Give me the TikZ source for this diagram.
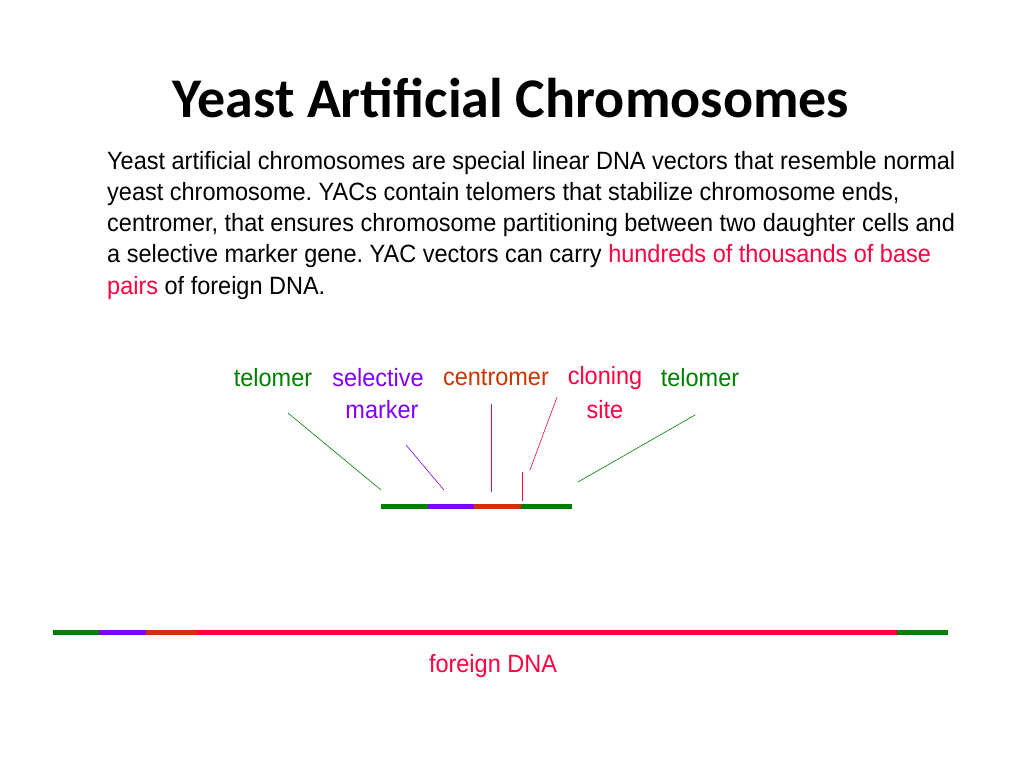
\documentclass[tikz,border=0pt]{standalone}
\usepackage{fontspec}
\setmainfont{Liberation Sans}
\newfontfamily\titlefont{Carlito}
\frenchspacing
\definecolor{telgreen}{RGB}{0,128,0}
\definecolor{selpurple}{RGB}{128,0,255}
\definecolor{cenorange}{RGB}{204,51,0}
\definecolor{clored}{RGB}{255,0,64}
\tikzset{
  txtline/.style={anchor=west, inner sep=0pt, font=\fontsize{25}{25}\selectfont, xscale=0.94},
  lbl/.style={inner sep=0pt, font=\fontsize{25}{25}\selectfont, xscale=0.94},
  seg/.style={line width=5pt},
  pointer/.style={line width=0.6pt}
}
\begin{document}
\begin{tikzpicture}[x=1pt,y=-1pt]
    \useasboundingbox (0,0) rectangle (1024,768);

    \node [font=\titlefont\bfseries\fontsize{56}{56}\selectfont] (title) at (511,98) {Yeast Artificial Chromosomes};

    \node [txtline] (p1) at (107,163) {Yeast artificial chromosomes are special linear DNA vectors that resemble normal};
    \node [txtline] (p2) at (107,194) {yeast chromosome. YACs contain telomers that stabilize chromosome ends,};
    \node [txtline] (p3) at (107,225) {centromer, that ensures chromosome partitioning between two daughter cells and};
    \node [txtline] (p4) at (107,256) {a selective marker gene. YAC vectors can carry \textcolor{clored}{hundreds of thousands of base}};
    \node [txtline] (p5) at (107,288) {\textcolor{clored}{pairs} of foreign DNA.};

    \node [lbl, text=telgreen]   (tel1) at (273,378) {telomer};
    \node [lbl, text=selpurple]  (sel)  at (378,378) {selective};
    \node [lbl, text=selpurple]  (mark) at (382,410) {marker};
    \node [lbl, text=cenorange]  (cen)  at (496,378) {centromer};
    \node [lbl, text=clored]     (clo)  at (605,378) {cloning};
    \node [lbl, text=clored]     (site) at (605,410) {site};
    \node [lbl, text=telgreen]   (tel2) at (700,378) {telomer};

    % short vector
    \draw [seg, telgreen]   (381,506) -- (428,506);
    \draw [seg, selpurple]  (428,506) -- (474,506);
    \draw [seg, cenorange]  (474,506) -- (521,506);
    \draw [seg, telgreen]   (521,506) -- (572,506);

    \coordinate (t1a) at (288,413);  \coordinate (t1b) at (381,490);
    \coordinate (sa)  at (406,445);  \coordinate (sb)  at (444,490);
    \coordinate (ca)  at (491,404);  \coordinate (cb)  at (491,492);
    \coordinate (ka)  at (557,397);  \coordinate (kb)  at (530,470);
    \coordinate (kc)  at (522,472);  \coordinate (kd)  at (522,501);
    \coordinate (t2a) at (695,415);  \coordinate (t2b) at (578,482);
    \draw [pointer, telgreen]  (t1a) -- (t1b);
    \draw [pointer, selpurple] (sa) -- (sb);
    \draw [pointer, clored]    (ca) -- (cb);
    \draw [pointer, clored]    (ka) -- (kb);
    \draw [pointer, clored]    (kc) -- (kd);
    \draw [pointer, telgreen]  (t2a) -- (t2b);

    % long vector with insert
    \draw [seg, telgreen]   (53,632) -- (99,632);
    \draw [seg, selpurple]  (99,632) -- (146,632);
    \draw [seg, cenorange]  (146,632) -- (198,632);
    \draw [seg, clored]     (198,632) -- (897,632);
    \draw [seg, telgreen]   (897,632) -- (948,632);

    \node [lbl, text=clored] (fdna) at (493,666) {foreign DNA};

\end{tikzpicture}
\end{document}
